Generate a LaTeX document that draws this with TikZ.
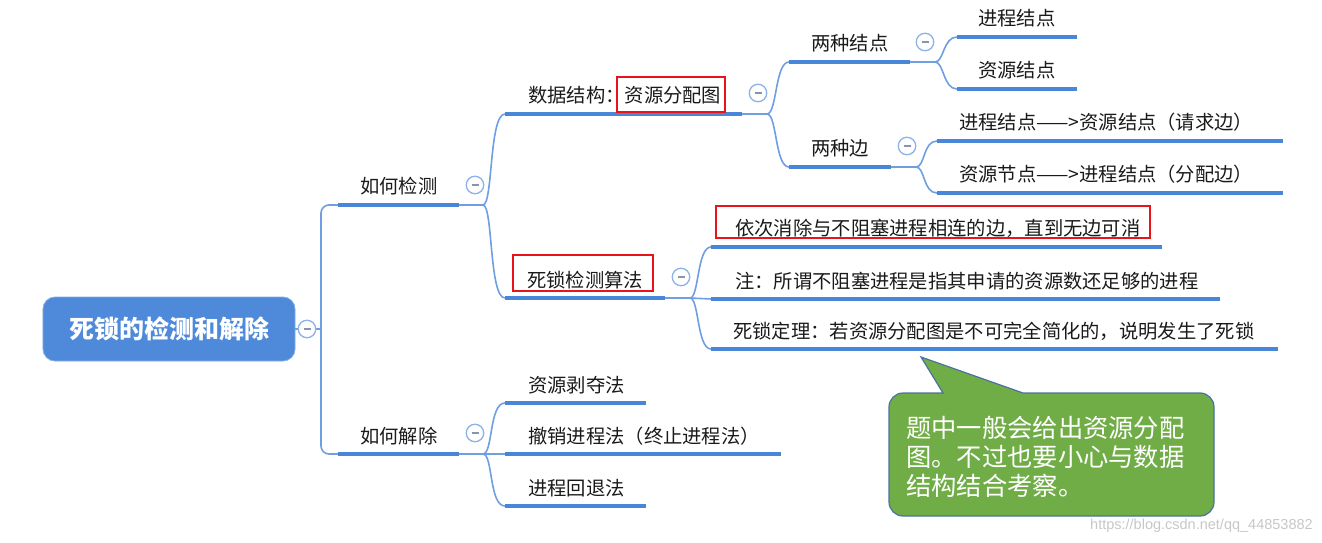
\documentclass[tikz,border=0pt]{standalone}
\usepackage{fontspec}
\setmainfont{Noto Sans CJK SC}
\newfontfamily\songfont{Noto Sans CJK SC}
\newfontfamily\wmfont{Liberation Sans}
\definecolor{ulblue}{HTML}{4A86D8}
\definecolor{lnblue}{HTML}{6F9FE2}
\definecolor{rootblue}{HTML}{4E8AD9}
\definecolor{foldc}{HTML}{8DB2E8}
\definecolor{foldm}{HTML}{8595B0}
\definecolor{txt}{HTML}{1A1A1A}
\definecolor{cgreen}{HTML}{70AD47}
\definecolor{cborder}{HTML}{4A72A0}
\definecolor{mred}{HTML}{E8141B}
\tikzset{
  ul/.style={draw=ulblue, line width=4bp},
  conn/.style={draw=lnblue, line width=1.6bp},
  lbl/.style={font=\fontsize{19.3bp}{22bp}\selectfont, text=txt, anchor=base west, inner sep=0pt},
  fold/.style={circle, draw=foldc, line width=1.3bp, fill=white, minimum size=17.5bp, inner sep=0pt,
    path picture={\draw[foldm, line width=1.6bp] ([xshift=-3.5bp]path picture bounding box.center) -- ([xshift=3.5bp]path picture bounding box.center);}},
  redbox/.style={draw=mred, line width=1.4bp},
  rootbox/.style={rectangle, rounded corners=12bp, fill=rootblue, draw=rootblue!70, line width=0.8bp,
    minimum width=252bp, minimum height=64bp, text=white, font=\fontsize{25bp}{28bp}\selectfont\bfseries},
  callout/.style={fill=cgreen, draw=cborder, line width=1.2bp},
  ctext/.style={font=\songfont\fontsize{25.3bp}{29bp}\selectfont, text=white, anchor=base west, inner sep=0pt},
  wm/.style={font=\wmfont\fontsize{14.5bp}{16bp}\selectfont, text=black!22, anchor=base west, inner sep=0pt},
}
\begin{document}
\begin{tikzpicture}[x=1bp,y=-1bp]
\useasboundingbox (0,0) rectangle (1322,543);

% ---------- coordinates of underlines ----------
\coordinate (jc-s) at (338,205); \coordinate (jc-e) at (459,205); \coordinate (jc-b) at (483,205);
\coordinate (jj-s) at (338,454); \coordinate (jj-e) at (459,454); \coordinate (jj-b) at (483,454);
\coordinate (sj-s) at (505,114); \coordinate (sj-e) at (742,114); \coordinate (sj-b) at (767,114);
\coordinate (sf-s) at (505,298); \coordinate (sf-e) at (665,298); \coordinate (sf-b) at (690,298);
\coordinate (lj-s) at (789,62);  \coordinate (lj-e) at (910,62);  \coordinate (lj-b) at (935,62);
\coordinate (lb-s) at (789,167); \coordinate (lb-e) at (891,167); \coordinate (lb-b) at (916,167);
\coordinate (n1-s) at (957,37);  \coordinate (n1-e) at (1077,37);
\coordinate (n2-s) at (957,89);  \coordinate (n2-e) at (1077,89);
\coordinate (e1-s) at (937,141); \coordinate (e1-e) at (1283,141);
\coordinate (e2-s) at (937,193); \coordinate (e2-e) at (1283,193);
\coordinate (a1-s) at (711,247); \coordinate (a1-e) at (1162,247);
\coordinate (a2-s) at (711,299); \coordinate (a2-e) at (1220,299);
\coordinate (a3-s) at (711,349); \coordinate (a3-e) at (1278,349);
\coordinate (r1-s) at (505,403); \coordinate (r1-e) at (646,403);
\coordinate (r2-s) at (505,454); \coordinate (r2-e) at (781,454);
\coordinate (r3-s) at (505,506); \coordinate (r3-e) at (646,506);
\coordinate (tk) at (321,329);

% ---------- root ----------
\node[rootbox] (root) at (169,329) {死锁的检测和解除};

% ---------- connectors ----------
\draw[conn] (root.east) -- (tk);
\draw[conn, rounded corners=8bp] (jc-s) -| (tk) |- (jj-s);

\draw[conn] (jc-e) -- (jc-b);
\draw[conn] (jc-b) .. controls +(10,0) and +(-16,0) .. (sj-s);
\draw[conn] (jc-b) .. controls +(10,0) and +(-16,0) .. (sf-s);

\draw[conn] (jj-e) -- (jj-b) -- (r2-s);
\draw[conn] (jj-b) .. controls +(10,0) and +(-16,0) .. (r1-s);
\draw[conn] (jj-b) .. controls +(10,0) and +(-16,0) .. (r3-s);

\draw[conn] (sj-e) -- (sj-b);
\draw[conn] (sj-b) .. controls +(10,0) and +(-14,0) .. (lj-s);
\draw[conn] (sj-b) .. controls +(10,0) and +(-14,0) .. (lb-s);

\draw[conn] (lj-e) -- (lj-b);
\draw[conn] (lj-b) .. controls +(9,0) and +(-14,0) .. (n1-s);
\draw[conn] (lj-b) .. controls +(9,0) and +(-14,0) .. (n2-s);

\draw[conn] (lb-e) -- (lb-b);
\draw[conn] (lb-b) .. controls +(9,0) and +(-14,0) .. (e1-s);
\draw[conn] (lb-b) .. controls +(9,0) and +(-14,0) .. (e2-s);

\draw[conn] (sf-e) -- (sf-b) -- (a2-s);
\draw[conn] (sf-b) .. controls +(9,0) and +(-14,0) .. (a1-s);
\draw[conn] (sf-b) .. controls +(9,0) and +(-14,0) .. (a3-s);

% ---------- underlines ----------
\foreach \n in {jc,jj,sj,sf,lj,lb,n1,n2,e1,e2,a1,a2,a3,r1,r2,r3}
  \draw[ul] (\n-s) -- (\n-e);

% ---------- labels ----------
\node[lbl] (jc-t) at (360,194) {如何检测};
\node[lbl] (jj-t) at (360,443) {如何解除};
\node[lbl] (sj-t) at (528,103) {数据结构：资源分配图};
\node[lbl] (sf-t) at (527,287) {死锁检测算法};
\node[lbl] (lj-t) at (811,51) {两种结点};
\node[lbl] (lb-t) at (811,156) {两种边};
\node[lbl] (n1-t) at (978,26) {进程结点};
\node[lbl] (n2-t) at (978,78) {资源结点};
\node[lbl] (e1-t) at (959,130) {进程结点——>资源结点（请求边）};
\node[lbl] (e2-t) at (959,182) {资源节点——>进程结点（分配边）};
\node[lbl] (a1-t) at (735,236) {依次消除与不阻塞进程相连的边，直到无边可消};
\node[lbl] (a2-t) at (735,288) {注：所谓不阻塞进程是指其申请的资源数还足够的进程};
\node[lbl] (a3-t) at (733,338) {死锁定理：若资源分配图是不可完全简化的，说明发生了死锁};
\node[lbl] (r1-t) at (528,392) {资源剥夺法};
\node[lbl] (r2-t) at (528,443) {撤销进程法（终止进程法）};
\node[lbl] (r3-t) at (528,495) {进程回退法};

% ---------- red highlight boxes ----------
\draw[redbox] (617,77) rectangle (725,112);
\draw[redbox] (513,255) rectangle (653,291);
\draw[redbox] (716,206) rectangle (1150,238);

% ---------- fold markers ----------
\node[fold] (root-f) at (307,329) {};
\node[fold] (jc-f) at (475,185) {};
\node[fold] (jj-f) at (475,433) {};
\node[fold] (sj-f) at (758,93) {};
\node[fold] (sf-f) at (681,277) {};
\node[fold] (lj-f) at (925,42) {};
\node[fold] (lb-f) at (907,146) {};

% ---------- callout ----------
\draw[callout] (921,357) -- (943,393) [rounded corners=14bp] -- (889,393) -- (889,516) -- (1214,516) -- (1214,393) [sharp corners] -- (1023,393) -- cycle;
\node[ctext] (c1) at (906,437) {题中一般会给出资源分配};
\node[ctext] (c2) at (906,466) {图。不过也要小心与数据};
\node[ctext] (c3) at (906,495) {结构结合考察。};

% ---------- watermark ----------
\node[wm] (wmk) at (1090,529) {https://blog.csdn.net/qq\_44853882};
\end{tikzpicture}
\end{document}
